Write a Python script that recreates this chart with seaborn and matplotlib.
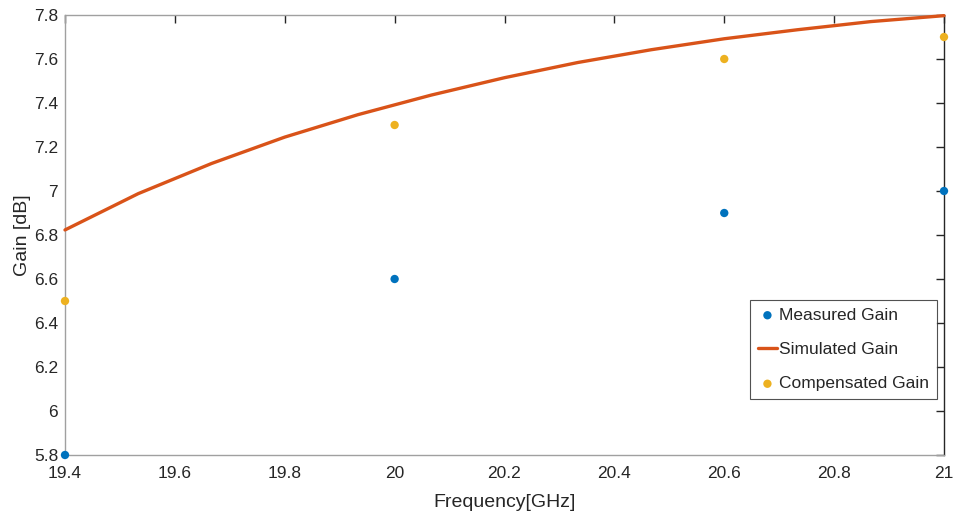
import matplotlib
matplotlib.use("Agg")
import matplotlib.pyplot as plt
import seaborn as sns
import pandas as pd

# Measured and compensated gain at the test frequencies
meas_freq = [19.4, 20.0, 20.6, 21.0]
meas_gain = [5.8, 6.6, 6.9, 7.0]
comp_gain = [6.5, 7.3, 7.6, 7.7]

# Simulated gain sweep
sim_freq = [19.4, 19.5333, 19.6667, 19.8, 19.9333, 20.0667, 20.2,
            20.3333, 20.4667, 20.6, 20.7333, 20.8667, 21.0]
sim_gain = [6.823, 6.988, 7.125, 7.245, 7.347, 7.436, 7.515,
            7.584, 7.642, 7.692, 7.733, 7.770, 7.797]

xticks = [19.4, 19.6, 19.8, 20.0, 20.2, 20.4, 20.6, 20.8, 21.0]
xtick_labels = ["19.4", "19.6", "19.8", "20", "20.2", "20.4", "20.6", "20.8", "21"]
yticks = [5.8, 6.0, 6.2, 6.4, 6.6, 6.8, 7.0, 7.2, 7.4, 7.6, 7.8]
ytick_labels = ["5.8", "6", "6.2", "6.4", "6.6", "6.8", "7", "7.2", "7.4", "7.6", "7.8"]

meas_df = pd.DataFrame({"f": meas_freq, "g": meas_gain})
comp_df = pd.DataFrame({"f": meas_freq, "g": comp_gain})
sim_df = pd.DataFrame({"f": sim_freq, "g": sim_gain})

sns.set_style("white")
plt.rcParams["font.family"] = ["Liberation Sans", "DejaVu Sans"]

fig = plt.figure(figsize=(9.56, 5.18), dpi=100)
ax = fig.add_axes([65 / 956, 1 - 455 / 518, 879 / 956, 440 / 518])

blue = "#0072BD"
orange = "#D95319"
yellow = "#EDB120"

sns.scatterplot(data=meas_df, x="f", y="g", ax=ax, color=blue, s=36,
                edgecolor="none", label="Measured Gain", clip_on=False, zorder=4)
sns.lineplot(data=sim_df, x="f", y="g", ax=ax, color=orange, linewidth=2.4,
             label="Simulated Gain", clip_on=False, zorder=3)
sns.scatterplot(data=comp_df, x="f", y="g", ax=ax, color=yellow, s=36,
                edgecolor="none", label="Compensated Gain", clip_on=False, zorder=4)

ax.set_xlim(19.4, 21.0)
ax.set_ylim(5.8, 7.8)
ax.set_xticks(xticks)
ax.set_xticklabels(xtick_labels)
ax.set_yticks(yticks)
ax.set_yticklabels(ytick_labels)
ax.tick_params(axis="both", direction="in", length=6, width=1, color="#262626",
               labelsize=12.5, labelcolor="#262626", top=True, right=True)
ax.tick_params(axis="x", pad=8)
ax.tick_params(axis="y", pad=5)
for side in ["left", "bottom", "top", "right"]:
    ax.spines[side].set_visible(True)
    ax.spines[side].set_color("#A0A0A0")
    ax.spines[side].set_linewidth(1)
ax.spines["right"].set_color("#262626")

ax.set_xlabel("Frequency[GHz]", fontsize=14, color="#262626", labelpad=9)
ax.set_ylabel("Gain [dB]", fontsize=14, color="#262626", labelpad=2)

leg = ax.legend(loc="lower right", bbox_to_anchor=(0.9915, 0.127),
                fontsize=12.5, frameon=True, fancybox=False,
                handlelength=1.1, handletextpad=0.1, borderpad=0.45,
                labelspacing=1.1, borderaxespad=0)
leg.get_frame().set_edgecolor("#262626")
leg.get_frame().set_linewidth(0.8)

fig.savefig("out.png", dpi=100, facecolor="white")
